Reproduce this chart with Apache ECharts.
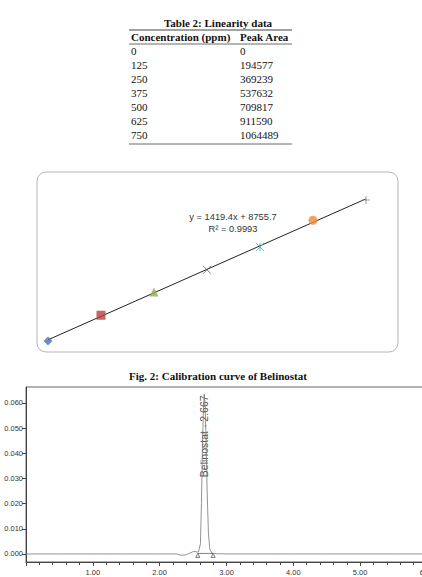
<!DOCTYPE html>
<html>
<head>
<meta charset="utf-8">
<script src="https://cdn.jsdelivr.net/npm/echarts@6/dist/echarts.min.js"></script>
<style>
  html, body {margin: 0; padding: 0; background: #fff; overflow: hidden;}
  #main {width: 422px; height: 577px;}
</style>
</head>
<body>
<div id="main"></div>
<script>
// linearity table / calibration points
const concentrations = [0, 125, 250, 375, 500, 625, 750];
const peakAreas = [0, 194577, 369239, 537632, 709817, 911590, 1064489];
// trendline ends, from the printed equation y = 1419.4x + 8755.7
const trendX = [0, 750];
const trendY = [8755.7, 1073305.7];
const markerSymbols = ['diamond', 'rect', 'triangle',
  'path://M0,0L10,10M10,0L0,10',
  'path://M0,0L10,10M10,0L0,10M5,0L5,10',
  'circle',
  'path://M5,0L5,10M0,5L10,5'];
const markerColors = ['#4a76aa', '#b7403e', '#8fae4c', '#555555', '#4bacc6', '#f08a3a', '#888888'];

// chromatogram trace
const rtMinutes = [0, 0.5, 1.0, 1.5, 2.0, 2.25, 2.3, 2.35, 2.4, 2.45, 2.5, 2.53, 2.56, 2.58, 2.61, 2.625,
  2.64, 2.655, 2.667, 2.68, 2.695, 2.71, 2.73, 2.75, 2.78, 2.85, 3.0, 3.5, 4.0, 4.5, 5.0, 5.5, 6.0];
const absorbance = [0, 0, 0, 0, 0, 0, -0.0004, -0.0005, -0.0003, 0.0003, 0.0009, 0.001, 0.0007, 0.0008, 0.004, 0.02,
  0.042, 0.058, 0.0635, 0.059, 0.045, 0.025, 0.008, 0.002, 0.0003, 0.0001, 0, 0, 0, 0, 0, 0, 0];
const peakBounds = [2.57, 2.80];
const peakLabel = 'Belinostat - 2.667';
const yTicks = [0, 0.01, 0.02, 0.03, 0.04, 0.05, 0.06];
const yMinorTicks = [];
for (let v = -0.002; v < 0.066; v += 0.002) yMinorTicks.push(+v.toFixed(3));

const tableTitle = 'Table 2: Linearity data';
const tableHeaders = ['Concentration (ppm)', 'Peak Area'];
const figCaption = 'Fig. 2: Calibration curve of Belinostat';

const serif = '"Liberation Serif", "Times New Roman", serif';
const sans = '"Liberation Sans", Arial, sans-serif';

const graphics = [];
function txt(x, y, text, opt) {
  graphics.push({type: 'text', x: x, y: y, style: Object.assign({
    text: text, font: '11px ' + serif, fill: '#111', align: 'left', verticalAlign: 'middle'
  }, opt || {})});
}
function hline(x1, x2, y, w) {
  graphics.push({type: 'line', shape: {x1: x1, y1: y, x2: x2, y2: y}, style: {stroke: '#444', lineWidth: w || 1}});
}

txt(218, 23, tableTitle, {font: 'bold 11px ' + serif, align: 'center'});
hline(129, 292, 30, 1.2);
txt(131, 37, tableHeaders[0], {font: 'bold 11px ' + serif});
txt(240, 37, tableHeaders[1], {font: 'bold 11px ' + serif});
hline(129, 292, 44, 0.8);
concentrations.forEach((c, i) => {
  txt(131, 51 + i * 14, String(c));
  txt(240, 51 + i * 14, String(peakAreas[i]));
});
hline(129, 292, 144, 0.8);

graphics.push({type: 'rect', shape: {x: 37, y: 172, width: 361, height: 180, r: 9},
  style: {fill: 'none', stroke: '#b5b5b5', lineWidth: 1}, z: -1});
txt(233, 217, 'y = 1419.4x + 8755.7', {font: '9.3px ' + sans, fill: '#333', align: 'center'});
txt(233, 229, 'R\u00b2 = 0.9993', {font: '9.3px ' + sans, fill: '#333', align: 'center'});
txt(218, 376, figCaption, {font: 'bold 11px ' + serif, align: 'center'});

const series = [{
  type: 'line', xAxisIndex: 0, yAxisIndex: 0, silent: true,
  data: trendX.map((x, i) => [x, trendY[i]]),
  showSymbol: false, lineStyle: {color: '#222', width: 1}, z: 1
}];
concentrations.forEach((c, i) => {
  const stroked = markerSymbols[i].startsWith('path');
  series.push({
    type: 'scatter', xAxisIndex: 0, yAxisIndex: 0,
    data: [[c, peakAreas[i]]],
    symbol: markerSymbols[i],
    symbolSize: stroked ? 8 : 9,
    itemStyle: stroked ? {color: 'transparent', borderColor: markerColors[i], borderWidth: 1}
      : {color: markerColors[i]},
    z: 3
  });
});
series.push({
  type: 'line', xAxisIndex: 1, yAxisIndex: 1,
  data: rtMinutes.map((t, i) => [t, absorbance[i]]),
  showSymbol: false, lineStyle: {color: '#777', width: 0.8}
});
series.push({
  type: 'line', xAxisIndex: 1, yAxisIndex: 1,
  data: peakBounds.map(t => [t, 0.0002]),
  symbol: 'triangle', symbolSize: 4, symbolOffset: [0, 2],
  itemStyle: {color: '#fff', borderColor: '#555', borderWidth: 0.8},
  lineStyle: {color: '#666', width: 0.8}
});
series.push({
  type: 'scatter', xAxisIndex: 1, yAxisIndex: 1,
  data: [[2.667, 0.0305]], symbolSize: 0,
  label: {show: true, formatter: peakLabel, position: [0, 0], rotate: 90,
    align: 'left', verticalAlign: 'middle', fontFamily: sans, fontSize: 10.5, color: '#222'}
});

const chart = echarts.init(document.getElementById('main'), null, {renderer: 'svg'});
chart.setOption({
  animation: false,
  backgroundColor: '#fff',
  graphic: graphics,
  grid: [
    {left: 48, right: 56, top: 195.3, bottom: 236, outerBoundsMode: 'none'},
    {left: 26, right: -5, top: 387, bottom: 15, outerBoundsMode: 'none',
      show: true, borderColor: '#666', borderWidth: 1}
  ],
  xAxis: [
    {gridIndex: 0, type: 'value', min: 0, max: 750, show: false},
    {gridIndex: 1, type: 'value', min: 0, max: 6, interval: 1,
      axisLine: {onZero: false, lineStyle: {color: '#444', width: 1}},
      axisTick: {length: 4, lineStyle: {color: '#444'}},
      minorTick: {show: true, splitNumber: 5, length: 3, lineStyle: {color: '#444'}},
      splitLine: {show: false},
      axisLabel: {fontFamily: sans, fontSize: 7.5, color: '#333', margin: 6,
        formatter: v => v === 0 ? '' : v.toFixed(2)}}
  ],
  yAxis: [
    {gridIndex: 0, type: 'value', min: 0, max: 1100000, show: false},
    {gridIndex: 1, type: 'value', min: -0.0032, max: 0.0663,
      axisLine: {show: true, onZero: false, lineStyle: {color: '#444', width: 1}},
      axisTick: {show: true, customValues: yTicks, length: 4, lineStyle: {color: '#444'}},
      splitLine: {show: false},
      axisLabel: {customValues: yTicks, fontFamily: sans, fontSize: 7.5, color: '#333', margin: 3,
        formatter: v => v.toFixed(3)}},
    {gridIndex: 1, type: 'value', min: -0.0032, max: 0.0663,
      axisLine: {show: false, onZero: false},
      axisTick: {show: true, customValues: yMinorTicks, length: 2.5, lineStyle: {color: '#444'}},
      splitLine: {show: false},
      axisLabel: {show: false}}
  ],
  series: series
});
</script>
</body>
</html>
